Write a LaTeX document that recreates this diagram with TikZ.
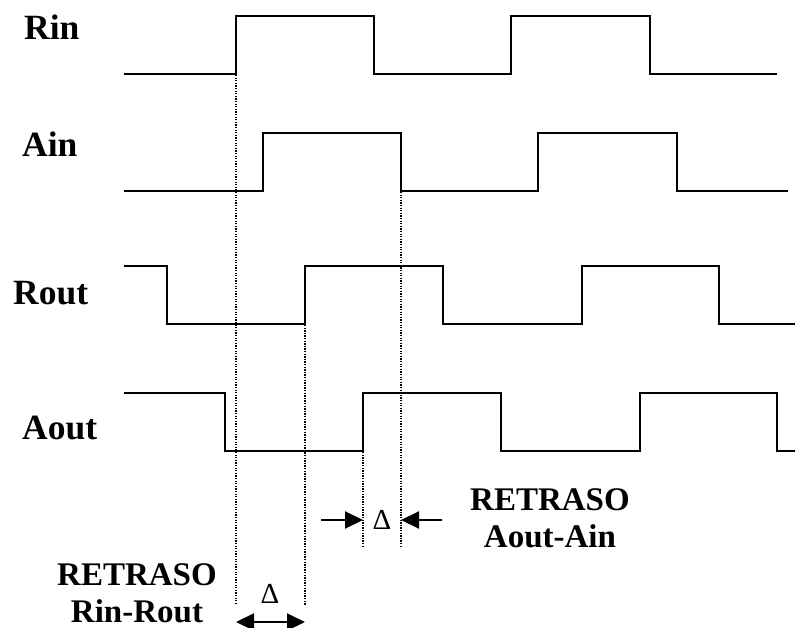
\documentclass[tikz,border=0pt]{standalone}
\usepackage{fontspec}
\setmainfont{Liberation Serif}
\usetikzlibrary{arrows.meta}
\begin{document}
\begin{tikzpicture}[x=1pt,y=-1pt,
  signal/.style={line width=2pt,line join=miter},
  guide/.style={line width=1.3pt,dash pattern=on 1.3pt off 1.3pt},
  dimarrow/.style={line width=2pt,-{Triangle[length=18pt,width=17pt]}},
  dimboth/.style={line width=2pt,{Triangle[length=18pt,width=17pt]}-{Triangle[length=18pt,width=17pt]}},
  lbl/.style={font=\fontsize{35.5}{38}\selectfont\bfseries,anchor=base west,inner sep=0pt},
  note/.style={font=\fontsize{33}{37}\selectfont\bfseries,align=center,inner sep=0pt},
  delta/.style={font=\fontsize{29}{32}\selectfont,inner sep=0pt}]
\useasboundingbox (0,0) rectangle (795,628);

% signal names
\node[lbl] (rin)  at (24,40)  {Rin};
\node[lbl] (ain)  at (22,157) {Ain};
\node[lbl] (rout) at (13,305) {Rout};
\node[lbl] (aout) at (22,439) {Aout};

% waveforms
\draw[signal] (124,74) -- (236,74) -- (236,16) -- (374,16) -- (374,74)
  -- (511,74) -- (511,16) -- (650,16) -- (650,74) -- (777,74);
\draw[signal] (124,191) -- (263,191) -- (263,133) -- (401,133) -- (401,191)
  -- (538,191) -- (538,133) -- (677,133) -- (677,191) -- (788,191);
\draw[signal] (124,266) -- (167,266) -- (167,324) -- (305,324) -- (305,266)
  -- (443,266) -- (443,324) -- (582,324) -- (582,266) -- (719,266)
  -- (719,324) -- (795,324);
\draw[signal] (124,393) -- (225,393) -- (225,451) -- (363,451) -- (363,393)
  -- (501,393) -- (501,451) -- (640,451) -- (640,393) -- (777,393)
  -- (777,451) -- (795,451);

% edge markers
\coordinate (rinup)   at (236,75);
\coordinate (routup)  at (305,325);
\coordinate (aoutup)  at (363,452);
\coordinate (aindown) at (401,192);
\coordinate (g1) at (236,604);
\coordinate (g2) at (305,605);
\coordinate (g3) at (363,546);
\coordinate (g4) at (401,546);

\draw[guide] (rinup) -- (g1);
\draw[guide] (routup) -- (g2);
\draw[guide] (aoutup) -- (g3);
\draw[guide] (aindown) -- (g4);

% Aout-Ain delay
\coordinate (la) at (321,520);
\coordinate (lb) at (363,520);
\coordinate (ra) at (442,520);
\coordinate (rb) at (401,520);
\draw[dimarrow] (la) -- (lb);
\draw[dimarrow] (ra) -- (rb);
\node[delta] (d1) at (382,520) {Δ};
\node[note] (n1) at (550,518) {RETRASO\\Aout-Ain};

% Rin-Rout delay
\coordinate (ba) at (236,622);
\coordinate (bb) at (305,622);
\draw[dimboth] (ba) -- (bb);
\node[delta] (d2) at (270,594) {Δ};
\node[note] (n2) at (137,593) {RETRASO\\Rin-Rout};
\end{tikzpicture}
\end{document}
